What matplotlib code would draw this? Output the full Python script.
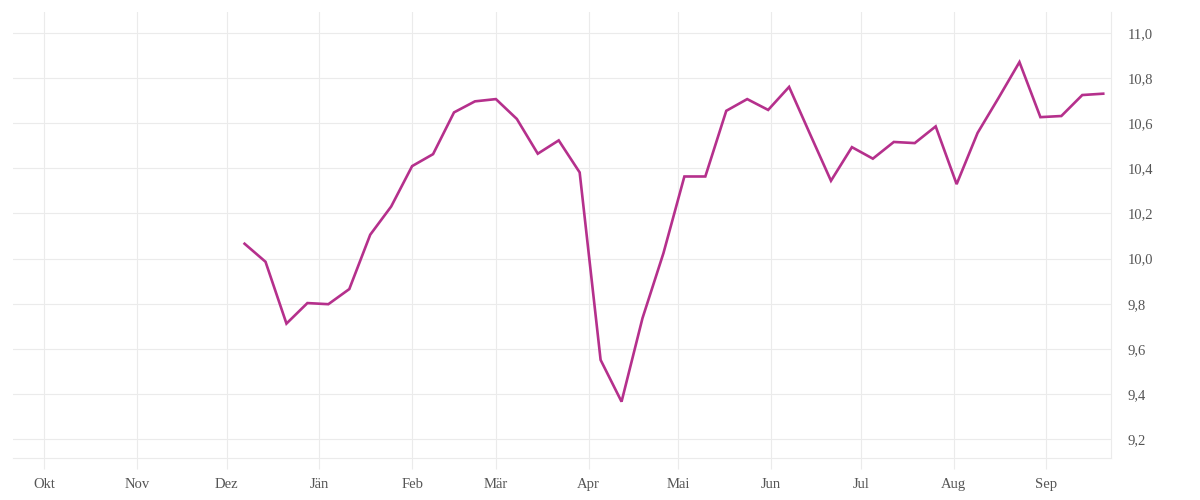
import matplotlib.pyplot as plt
import matplotlib.dates as mdates
import pandas as pd

# weekly values, Fridays from 7 Dec 2018 to 20 Sep 2019
dates = pd.date_range("2018-12-07", "2019-09-20", freq="W-FRI")
values = [10.066, 9.986, 9.712, 9.803, 9.798, 9.865, 10.106, 10.231,
          10.410, 10.463, 10.648, 10.697, 10.707, 10.619, 10.465, 10.524,
          10.382, 9.551, 9.366, 9.736, 10.024, 10.364, 10.364, 10.655,
          10.707, 10.659, 10.761, 10.552, 10.345, 10.494, 10.443, 10.517,
          10.512, 10.586, 10.330, 10.557, 10.712, 10.871, 10.627, 10.632,
          10.725, 10.731]

month_ticks = pd.date_range("2018-10-01", "2019-09-01", freq="MS")
month_labels = ["Okt", "Nov", "Dez", "Jän", "Feb", "Mär", "Apr",
                "Mai", "Jun", "Jul", "Aug", "Sep"]
y_ticks = [9.2, 9.4, 9.6, 9.8, 10.0, 10.2, 10.4, 10.6, 10.8, 11.0]

plt.rcParams['font.family'] = ['Liberation Serif', 'DejaVu Serif']

grid_col = '#ebebeb'
fig = plt.figure(figsize=(12, 5), dpi=100)
ax = fig.add_axes([0.0108, 0.0834, 0.915, 0.8926])

ax.plot(dates, values, color='#b5308c', linewidth=1.9, solid_joinstyle='miter')

ax.set_xlim(pd.Timestamp("2018-09-20 14:00"), pd.Timestamp("2019-09-22 14:00"))
ax.set_ylim(9.115, 11.093)

ax.set_xticks(month_ticks)
ax.set_xticklabels(month_labels)
ax.set_yticks(y_ticks)
ax.set_yticklabels([f"{v:.1f}".replace(".", ",") for v in y_ticks])

ax.yaxis.tick_right()
ax.grid(True, color=grid_col, linewidth=0.8)
ax.set_axisbelow(True)

# only a light bottom and right line, like the original
ax.spines['top'].set_visible(False)
ax.spines['left'].set_visible(False)
for s in ['bottom', 'right']:
    ax.spines[s].set_color(grid_col)
    ax.spines[s].set_linewidth(0.8)

ax.tick_params(axis='x', length=8, width=0.8, color=grid_col, pad=6,
               labelsize=10.5, labelcolor='#555555')
ax.tick_params(axis='y', length=0, pad=12, labelsize=10.5, labelcolor='#555555')

plt.savefig("out.png", dpi=100)
